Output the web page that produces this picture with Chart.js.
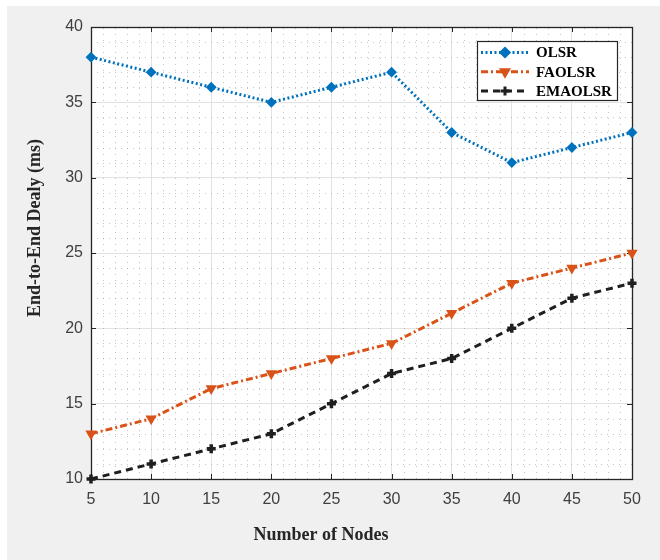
<!DOCTYPE html>
<html>
<head>
<meta charset="utf-8">
<script src="https://cdn.jsdelivr.net/npm/chart.js@4/dist/chart.umd.min.js"></script>
<style>
  html, body { margin: 0; padding: 0; background: #ffffff; }
  canvas { display: block; }
</style>
</head>
<body>
<canvas id="delayChart" width="660" height="560"></canvas>
<script>
// Number of nodes in the network (x axis)
const nodes = [5, 10, 15, 20, 25, 30, 35, 40, 45, 50];

// End-to-end delay in ms for each routing protocol
const olsrDelay    = [38, 37, 36, 35, 36, 37, 33, 31, 32, 33];
const faolsrDelay  = [13, 14, 16, 17, 18, 19, 21, 23, 24, 25];
const emaolsrDelay = [10, 11, 12, 13, 15, 17, 18, 20, 22, 23];

// Axis tick labels
const xTicks = [5, 10, 15, 20, 25, 30, 35, 40, 45, 50];
const yTicks = [10, 15, 20, 25, 30, 35, 40];
const minorStep = 1;

const xTitle = 'Number of Nodes';
const yTitle = 'End-to-End Dealy (ms)';

const AXIS_COLOR = '#262626';
const TICK_FONT = { family: "'Liberation Sans', Arial, Helvetica, sans-serif", size: 16 };
const TITLE_FONT = "bold 18px 'Liberation Serif', 'Times New Roman', serif";
const LEGEND_FONT = "bold 15px 'Liberation Serif', 'Times New Roman', serif";

// Figure background, white axes area, minor dotted grid
const frame = {
  id: 'frame',
  beforeDraw(chart) {
    const { ctx, chartArea: a } = chart;
    ctx.save();
    ctx.fillStyle = '#ffffff';
    ctx.fillRect(0, 0, chart.width, chart.height);
    ctx.fillStyle = '#f0f0f0';
    ctx.fillRect(7, 6, chart.width - 7, chart.height - 6);
    ctx.fillStyle = '#ffffff';
    ctx.fillRect(a.left, a.top, a.right - a.left, a.bottom - a.top);
    ctx.restore();
  },
  beforeDatasetsDraw(chart) {
    const { ctx, chartArea: a, scales: { x, y } } = chart;
    ctx.save();
    // minor grid
    ctx.strokeStyle = 'rgba(140,140,140,0.5)';
    ctx.lineWidth = 1;
    ctx.setLineDash([1, 5]);
    for (let v = x.min; v <= x.max; v += minorStep) {
      if (xTicks.includes(v)) continue;
      const px = Math.round(x.getPixelForValue(v)) + 0.5;
      ctx.beginPath(); ctx.moveTo(px, a.bottom); ctx.lineTo(px, a.top); ctx.stroke();
    }
    for (let v = y.min; v <= y.max; v += minorStep) {
      if (yTicks.includes(v)) continue;
      const py = Math.round(y.getPixelForValue(v)) + 0.5;
      ctx.beginPath(); ctx.moveTo(a.left, py); ctx.lineTo(a.right, py); ctx.stroke();
    }
    ctx.setLineDash([]);
    // axes box
    ctx.strokeStyle = AXIS_COLOR;
    ctx.lineWidth = 1.3;
    ctx.strokeRect(Math.round(a.left) + 0.5, Math.round(a.top) + 0.5,
                   Math.round(a.right - a.left), Math.round(a.bottom - a.top));
    // inward tick marks on all four sides
    const tl = 5;
    ctx.lineWidth = 1;
    xTicks.forEach(v => {
      const px = Math.round(x.getPixelForValue(v)) + 0.5;
      ctx.beginPath();
      ctx.moveTo(px, a.bottom); ctx.lineTo(px, a.bottom - tl);
      ctx.moveTo(px, a.top); ctx.lineTo(px, a.top + tl);
      ctx.stroke();
    });
    yTicks.forEach(v => {
      const py = Math.round(y.getPixelForValue(v)) + 0.5;
      ctx.beginPath();
      ctx.moveTo(a.left, py); ctx.lineTo(a.left + tl, py);
      ctx.moveTo(a.right, py); ctx.lineTo(a.right - tl, py);
      ctx.stroke();
    });
    ctx.restore();
  }
};

// Axis titles
const axisTitles = {
  id: 'axisTitles',
  afterDraw(chart) {
    const { ctx } = chart;
    ctx.save();
    ctx.fillStyle = AXIS_COLOR;
    ctx.font = TITLE_FONT;
    ctx.textAlign = 'center';
    ctx.textBaseline = 'middle';
    ctx.fillText(xTitle, 321, 535);
    ctx.translate(35, 228);
    ctx.rotate(-Math.PI / 2);
    ctx.fillText(yTitle, 0, 0);
    ctx.restore();
  }
};

// Boxed legend in the upper right of the axes
const boxLegend = {
  id: 'boxLegend',
  afterDatasetsDraw(chart) {
    const { ctx, chartArea: a } = chart;
    const w = 140, h = 59;
    const left = a.right - 15 - w, top = a.top + 14;
    ctx.save();
    ctx.fillStyle = '#ffffff';
    ctx.fillRect(left, top, w, h);
    ctx.strokeStyle = AXIS_COLOR;
    ctx.lineWidth = 1.2;
    ctx.strokeRect(left + 0.5, top + 0.5, w, h);
    chart.data.datasets.forEach((ds, i) => {
      const cy = top + 11.5 + i * 19.2;
      ctx.save();
      ctx.strokeStyle = ds.borderColor;
      ctx.lineWidth = ds.borderWidth;
      ctx.setLineDash(ds.borderDash || []);
      ctx.beginPath();
      ctx.moveTo(left + 4, cy);
      ctx.lineTo(left + 52, cy);
      ctx.stroke();
      ctx.setLineDash([]);
      ctx.fillStyle = ds.pointBackgroundColor;
      ctx.strokeStyle = ds.pointBorderColor;
      Chart.helpers.drawPoint(ctx, {
        pointStyle: ds.pointStyle,
        radius: ds.pointRadius,
        rotation: ds.pointRotation || 0,
        borderWidth: ds.pointBorderWidth
      }, left + 28, cy);
      ctx.restore();
      ctx.fillStyle = '#000000';
      ctx.font = LEGEND_FONT;
      ctx.textAlign = 'left';
      ctx.textBaseline = 'middle';
      ctx.fillText(ds.label, left + 59, cy + 1);
    });
    ctx.restore();
  }
};

new Chart(document.getElementById('delayChart'), {
  type: 'line',
  data: {
    labels: nodes,
    datasets: [
      {
        label: 'OLSR',
        data: olsrDelay,
        borderColor: '#0072BD',
        borderWidth: 3,
        borderDash: [2, 2.5],
        pointStyle: 'rectRot',
        pointRadius: 4,
        pointBorderWidth: 2,
        pointBackgroundColor: '#0072BD',
        pointBorderColor: '#0072BD',
        tension: 0,
        clip: false
      },
      {
        label: 'FAOLSR',
        data: faolsrDelay,
        borderColor: '#D95319',
        borderWidth: 3,
        borderDash: [7, 3, 2, 3],
        pointStyle: 'triangle',
        pointRotation: 180,
        pointRadius: 4,
        pointBorderWidth: 2.5,
        pointBackgroundColor: '#D95319',
        pointBorderColor: '#D95319',
        tension: 0,
        clip: false
      },
      {
        label: 'EMAOLSR',
        data: emaolsrDelay,
        borderColor: '#1f1f1f',
        borderWidth: 3,
        borderDash: [7, 5],
        pointStyle: 'cross',
        pointRadius: 4.5,
        pointBorderWidth: 3.5,
        pointBackgroundColor: '#1f1f1f',
        pointBorderColor: '#1f1f1f',
        tension: 0,
        clip: false
      }
    ]
  },
  options: {
    responsive: false,
    animation: false,
    devicePixelRatio: 1,
    layout: { padding: { top: 27, right: 28, left: 0, bottom: 0 } },
    plugins: {
      legend: { display: false },
      tooltip: { enabled: false }
    },
    elements: { line: { borderCapStyle: 'butt' } },
    scales: {
      x: {
        type: 'linear',
        min: 5,
        max: 50,
        afterBuildTicks(scale) { scale.ticks = xTicks.map(v => ({ value: v })); },
        afterFit(scale) { scale.height = 81; },
        ticks: { font: TICK_FONT, color: '#404040', padding: 11, maxRotation: 0, autoSkip: false },
        grid: { color: '#e2e2e2', lineWidth: 1, drawTicks: false },
        border: { display: false }
      },
      y: {
        type: 'linear',
        min: 10,
        max: 40,
        afterBuildTicks(scale) { scale.ticks = yTicks.map(v => ({ value: v })); },
        afterFit(scale) { scale.width = 91; },
        ticks: { font: TICK_FONT, color: '#404040', padding: 8, autoSkip: false },
        grid: { color: '#e2e2e2', lineWidth: 1, drawTicks: false },
        border: { display: false }
      }
    }
  },
  plugins: [frame, axisTitles, boxLegend]
});
</script>
</body>
</html>
